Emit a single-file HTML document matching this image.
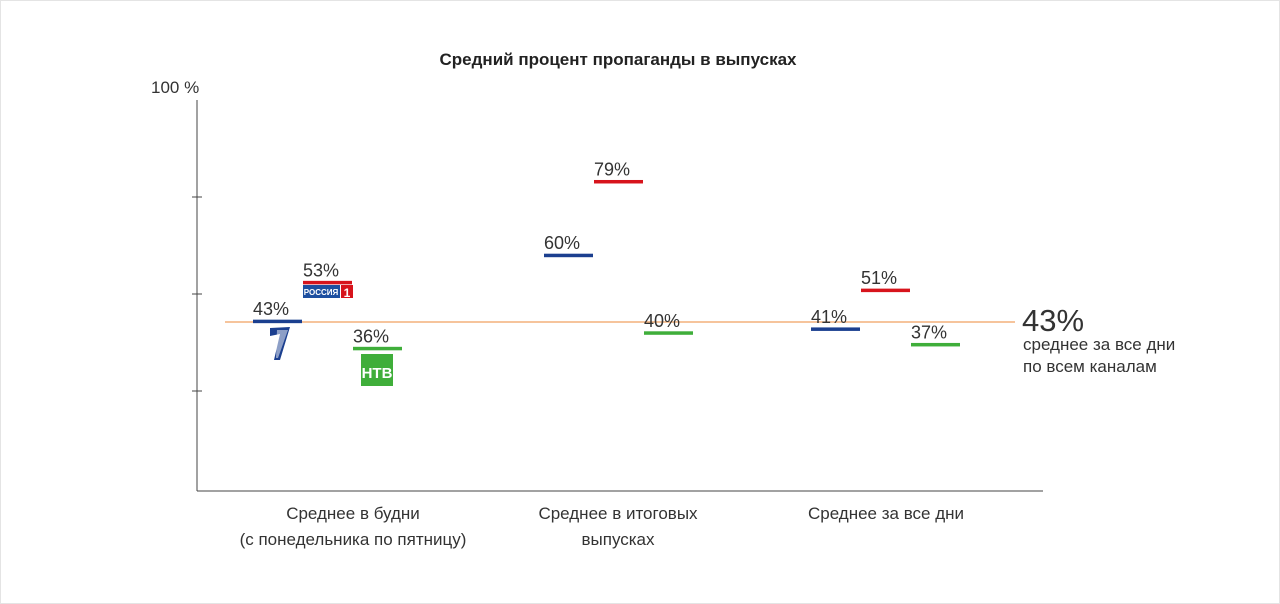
<!DOCTYPE html>
<html><head><meta charset="utf-8"><style>
body{margin:0;background:#fff;}
svg{display:block;font-family:"Liberation Sans","DejaVu Sans",sans-serif;}
</style></head><body>
<svg id="c" width="1280" height="604" viewBox="0 0 1280 604">
<rect x="0" y="0" width="1280" height="604" fill="#fff"/>
<rect x="0.5" y="0.5" width="1279" height="603" fill="none" stroke="#e4e4e4"/>
<text x="618" y="65" text-anchor="middle" font-size="17" font-weight="bold" fill="#222">Средний процент пропаганды в выпусках</text>
<text x="151" y="93" font-size="17" fill="#333">100 %</text>
<line x1="197" y1="100" x2="197" y2="491" stroke="#444" stroke-width="1"/>
<line x1="197" y1="491" x2="1043" y2="491" stroke="#444" stroke-width="1"/>
<g id="ticks"></g>
<line x1="225" y1="322" x2="1015" y2="322" stroke="#f0a060" stroke-width="1.2"/>
<text x="1022" y="331" font-size="31" fill="#333">43%</text>
<text x="1023" y="350" font-size="17" fill="#333">среднее за все дни</text>
<text x="1023" y="372" font-size="17" fill="#333">по всем каналам</text>
<g id="marks"></g>
<g id="cats" font-size="17" fill="#333" text-anchor="middle"></g>
<g><polygon points="270,328 290,327 280,360 274,360 280,334 270,336" fill="#1b3f8f"/><polygon points="277,330 288,330 278,358 276,358" fill="#fff" opacity="0.5"/></g>
<g><rect x="303" y="285" width="37" height="13" fill="#1d4fa0"/><text x="321" y="295" font-size="8" font-weight="bold" fill="#fff" text-anchor="middle">РОССИЯ</text><rect x="341" y="285" width="12" height="13" fill="#d7141c"/><text x="347" y="297" font-size="12" font-weight="bold" fill="#fff" text-anchor="middle">1</text></g>
<g><rect x="361" y="354" width="32" height="32" fill="#3fae3a"/><text x="377" y="378" font-size="15" font-weight="bold" fill="#fff" text-anchor="middle">НТВ</text></g>
</svg>
<script>
const categories=["Среднее в будни|(с понедельника по пятницу)","Среднее в итоговых|выпусках","Среднее за все дни"];
const channels=["Первый","Россия 1","НТВ"];
const colors=["#1b3f8f","#d7141c","#3fae3a"];
const seriesFirst=[43,60,41];
const seriesRussia=[53,79,51];
const seriesNtv=[36,40,37];
const yTicks=[25,50,75];
const ns="http://www.w3.org/2000/svg";
const y0=488,y100=100;
function yS(v){return y0-(y0-y100)*v/100;}
const groupStart=[253,544,811];
function xS(g,s){return groupStart[g]+s*50;}
const tk=document.getElementById('ticks');
yTicks.forEach(t=>{const l=document.createElementNS(ns,'line');


l.setAttribute('x1',192);l.setAttribute('x2',202);l.setAttribute('y1',yS(t));l.setAttribute('y2',yS(t));l.setAttribute('stroke','#444');tk.appendChild(l);});
const mk=document.getElementById('marks');
[seriesFirst,seriesRussia,seriesNtv].forEach((ser,s)=>{ser.forEach((v,g)=>{
const r=document.createElementNS(ns,'rect');


r.setAttribute('x',xS(g,s));r.setAttribute('y',yS(v)-1.5);r.setAttribute('width',49);r.setAttribute('height',3.5);r.setAttribute('fill',colors[s]);mk.appendChild(r);
const t=document.createElementNS(ns,'text');


t.setAttribute('x',xS(g,s)+(s==0&&g==0?0:0));t.setAttribute('y',yS(v)-6);t.setAttribute('font-size','18');t.setAttribute('fill','#333');t.textContent=v+'%';mk.appendChild(t);});});
const cx=[353,618,886];
const cg=document.getElementById('cats');
categories.forEach((c,i)=>{c.split('|').forEach((line,j)=>{const t=document.createElementNS(ns,'text');


t.setAttribute('x',cx[i]);t.setAttribute('y',519+j*26);t.textContent=line;cg.appendChild(t);});});
</script>
</body></html>
